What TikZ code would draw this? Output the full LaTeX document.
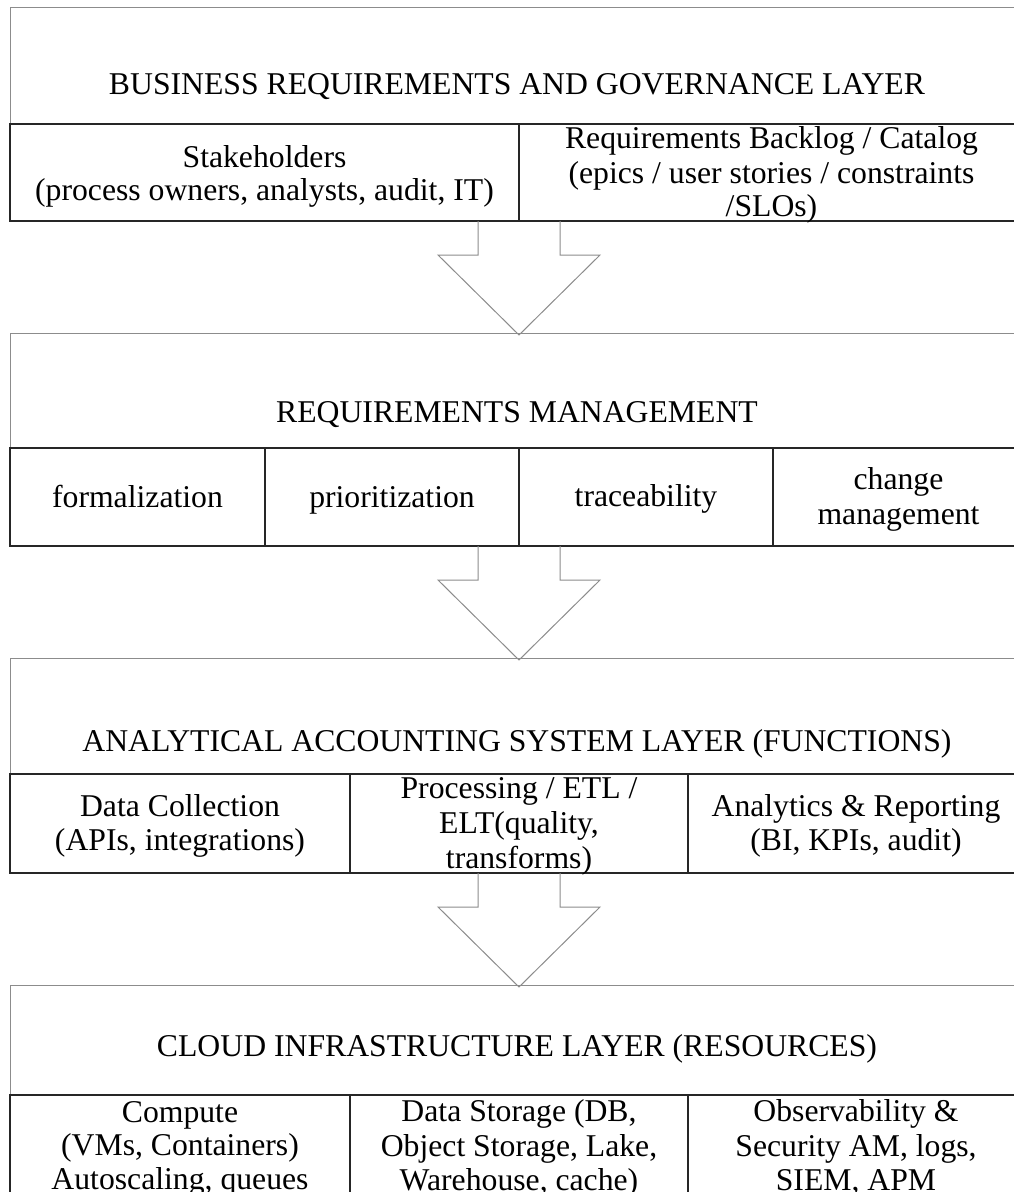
\documentclass[tikz,border=0pt]{standalone}
\usepackage{fontspec}
\setmainfont{Liberation Serif}
\newcommand\ls{\rule[-6.75pt]{0pt}{33.5pt}}
\begin{document}
\begin{tikzpicture}[x=1pt,y=-1pt,
  outer/.style={draw=black!45,line width=1pt},
  cell/.style={draw=black!85,line width=1.4pt,rectangle,inner sep=0pt},
  ctext/.style={inner sep=0pt,align=center,font=\fontsize{31.7}{33.5}\selectfont},
  title/.style={inner sep=0pt,font=\fontsize{31.7}{33.5}\selectfont},
  blockarrow/.style={draw=black!45,line width=1pt,line join=miter}]
\useasboundingbox (0,0) rectangle (1014,1192);
\clip (0,0) rectangle (1014,1192);

% ---------- Layer 1 ----------
\draw[outer] (10,7) rectangle (1024,221);
\node[title] (t1) at (517,84.5) {\ls BUSINESS REQUIREMENTS AND GOVERNANCE LAYER};
\node[cell,minimum width=509pt,minimum height=97pt] (c11) at (264.5,172.5) {};
\node[ctext] (x11) at ([yshift=-1.5pt]c11.center) {\ls Stakeholders\\\ls(process owners, analysts, audit, IT)};
\node[cell,minimum width=505pt,minimum height=97pt] (c12) at (771.5,172.5) {};
\node[ctext] (x12) at (c12.center) {\ls Requirements Backlog / Catalog\\\ls(epics / user stories / constraints\\\ls/SLOs)};

% ---------- Layer 2 ----------
\draw[outer] (10,333) rectangle (1024,546);
\node[title] (t2) at (517,412) {\ls REQUIREMENTS MANAGEMENT};
\node[cell,minimum width=255pt,minimum height=98pt] (c21) at (137.5,497) {};
\node[ctext] (x21) at (c21.center) {\ls formalization};
\node[cell,minimum width=254pt,minimum height=98pt] (c22) at (392,497) {};
\node[ctext] (x22) at (c22.center) {\ls prioritization};
\node[cell,minimum width=254pt,minimum height=98pt] (c23) at (646,497) {};
\node[ctext] (x23) at (c23.center) {\ls traceability};
\node[cell,minimum width=251pt,minimum height=98pt] (c24) at (898.5,497) {};
\node[ctext] (x24) at (c24.center) {\ls change\\\ls management};

% ---------- Layer 3 ----------
\draw[outer] (10,658) rectangle (1024,873);
\node[title] (t3) at (517,741) {\ls ANALYTICAL ACCOUNTING SYSTEM LAYER (FUNCTIONS)};
\node[cell,minimum width=340pt,minimum height=99pt] (c31) at (180,823.5) {};
\node[ctext] (x31) at (c31.center) {\ls Data Collection\\\ls(APIs, integrations)};
\node[cell,minimum width=338pt,minimum height=99pt] (c32) at (519,823.5) {};
\node[ctext] (x32) at (c32.center) {\ls Processing / ETL /\\\ls ELT(quality,\\\ls transforms)};
\node[cell,minimum width=336pt,minimum height=99pt] (c33) at (856,823.5) {};
\node[ctext] (x33) at (c33.center) {\ls Analytics \& Reporting\\\ls(BI, KPIs, audit)};

% ---------- Layer 4 ----------
\draw[outer] (10,985) rectangle (1024,1205);
\node[title] (t4) at (517,1046) {\ls CLOUD INFRASTRUCTURE LAYER (RESOURCES)};
\node[cell,minimum width=340pt,minimum height=110pt] (c41) at (180,1150) {};
\node[ctext] (x41) at ([yshift=4pt]c41.center) {\ls Compute\\\ls(VMs, Containers)\\\ls Autoscaling, queues};
\node[cell,minimum width=338pt,minimum height=110pt] (c42) at (519,1150) {};
\node[ctext] (x42) at ([yshift=4pt]c42.center) {\ls Data Storage (DB,\\\ls Object Storage, Lake,\\\ls Warehouse, cache)};
\node[cell,minimum width=336pt,minimum height=110pt] (c43) at (856,1150) {};
\node[ctext] (x43) at ([yshift=4pt]c43.center) {\ls Observability \&\\\ls Security AM, logs,\\\ls SIEM, APM};

% ---------- Block arrows ----------
\foreach \yy/\nm in {221/a1,546/a2,873/a3}{
  \coordinate (\nm) at (519,\yy);
  \draw[blockarrow] ([xshift=-41pt]\nm) -- ++(0,34) -- ++(-40,0) -- ++(81,80) -- ++(81,-80) -- ++(-40,0) -- ++(0,-34);
}
\end{tikzpicture}
\end{document}
